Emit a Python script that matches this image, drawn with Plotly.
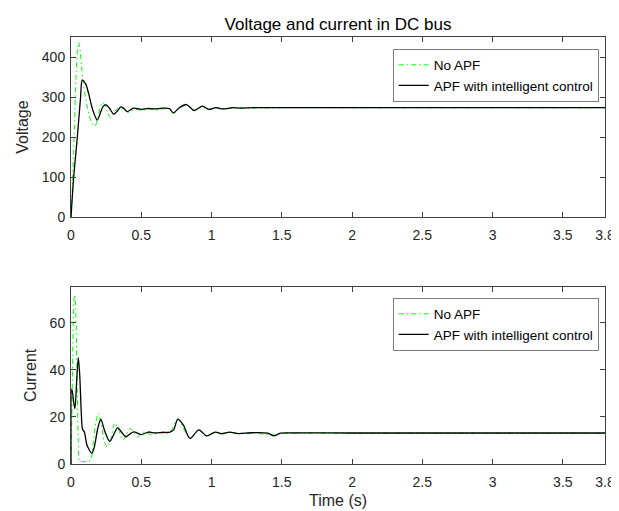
import plotly.graph_objects as go
from plotly.subplots import make_subplots

# ---- data ----
v_noapf_t = [0, 0.008, 0.018, 0.028, 0.038, 0.047, 0.054, 0.062, 0.075, 0.085, 0.108, 0.143, 0.171,
             0.19, 0.205, 0.222, 0.24, 0.26, 0.28, 0.30, 0.32, 0.35, 0.38, 0.41, 0.44, 0.47, 0.50,
             0.55, 0.60, 0.65, 0.70, 0.73, 0.78, 0.823, 0.876, 0.935, 0.98, 1.03, 1.10, 1.20, 1.30,
             1.50, 2.0, 2.5, 3.0, 3.5, 3.8]
v_noapf = [0, 60, 160, 270, 370, 425, 438, 425, 380, 340, 290, 240, 228,
           248, 272, 287, 282, 262, 249, 256, 268, 276, 270, 262, 268, 270, 267,
           271, 268, 271, 270, 260, 275, 281, 267, 277, 270, 274, 272, 274, 273,
           274, 274, 274, 274, 274, 274]

v_apf_t = [0, 0.019, 0.045, 0.068, 0.08, 0.105, 0.125, 0.155, 0.187, 0.21, 0.23, 0.25, 0.275,
           0.304, 0.33, 0.355, 0.38, 0.40, 0.445, 0.50, 0.55, 0.60, 0.65, 0.70, 0.729, 0.77,
           0.823, 0.876, 0.935, 0.98, 1.03, 1.08, 1.15, 1.20, 1.30, 1.50, 2.0, 2.5, 3.0, 3.5, 3.8]
v_apf = [0, 100, 200, 300, 343, 333, 310, 268, 243, 262, 278, 281, 272,
         258, 266, 276, 271, 264, 273, 270, 272, 271, 273, 272, 261, 274,
         282, 267, 278, 270, 274, 271, 274, 273, 274, 274, 274, 274, 274, 274, 274]

i_noapf_t = [0, 0.006, 0.012, 0.018, 0.024, 0.032, 0.042, 0.052, 0.06, 0.08, 0.10, 0.12, 0.14,
             0.16, 0.178, 0.194, 0.215, 0.235, 0.257, 0.285, 0.311, 0.34, 0.369, 0.395, 0.42,
             0.445, 0.469, 0.52, 0.57, 0.62, 0.70, 0.76, 0.846, 0.91, 0.965, 1.02, 1.08, 1.13,
             1.20, 1.30, 1.44, 1.50, 2.0, 2.5, 3.0, 3.5, 3.8]
i_noapf = [0, 20, 45, 65, 72, 68, 40, 10, 1.2, 1.0, 1.0, 1.0, 1.5,
           10, 18, 21.6, 17, 10, 7.3, 11, 17.4, 14.5, 10.1, 12.5, 15.2,
           13.5, 11.4, 13.6, 12.5, 13.3, 13.2, 19, 10.9, 14.3, 11.9, 13.6, 12.7, 13.4,
           12.9, 13.2, 12.3, 13.0, 13.0, 13.0, 13.0, 13.0, 13.0]

i_apf_t = [0, 0.005, 0.012, 0.02, 0.028, 0.04, 0.052, 0.062, 0.073, 0.082, 0.095, 0.112, 0.13,
           0.148, 0.165, 0.19, 0.212, 0.24, 0.276, 0.30, 0.332, 0.36, 0.39, 0.42, 0.447, 0.50,
           0.55, 0.60, 0.65, 0.70, 0.73, 0.76, 0.80, 0.846, 0.91, 0.965, 1.028, 1.07, 1.13,
           1.19, 1.28, 1.40, 1.444, 1.49, 1.60, 2.0, 2.5, 3.0, 3.5, 3.8]
i_apf = [0, 31.8, 30, 26, 23.6, 35, 45.3, 38, 22, 14.8, 13.6, 8.4, 6,
         4.6, 7, 15, 19.1, 14, 9.6, 12, 15.5, 13.5, 11.6, 12.8, 13.7, 12.5,
         13.6, 13.2, 13.5, 13.5, 14.5, 19.1, 16.5, 10.9, 14.5, 12.0, 13.6, 12.9, 13.6,
         12.9, 13.3, 13.1, 12.0, 13.1, 13.2, 13.2, 13.2, 13.2, 13.2, 13.2]

x_ticks = [0, 0.5, 1, 1.5, 2, 2.5, 3, 3.5, 3.8]
x_tick_labels = ["0", "0.5", "1", "1.5", "2", "2.5", "3", "3.5", "3.8"]
v_ticks = [0, 100, 200, 300, 400]
i_ticks = [0, 20, 40, 60]

series_names = ["No APF", "APF with intelligent control"]
title_text = "Voltage and current in DC bus"

# ---- figure ----
FONT = "Liberation Sans, Arial, Helvetica, sans-serif"
AX = "#404040"
TXT = "#262626"
GREEN = "#00ff00"
DASHDOT = "5px,3px,1.5px,3px"
W, H = 619, 511

fig = make_subplots(rows=2, cols=1)

fig.add_trace(go.Scatter(x=v_noapf_t, y=v_noapf, mode="lines", name=series_names[0],
                         line=dict(color=GREEN, width=1, dash=DASHDOT, shape="spline", smoothing=0.8),
                         legend="legend"), row=1, col=1)
fig.add_trace(go.Scatter(x=v_apf_t, y=v_apf, mode="lines", name=series_names[1],
                         line=dict(color="black", width=1.3, shape="spline", smoothing=0.8),
                         legend="legend"), row=1, col=1)
fig.add_trace(go.Scatter(x=i_noapf_t, y=i_noapf, mode="lines", name=series_names[0],
                         line=dict(color=GREEN, width=1, dash=DASHDOT, shape="spline", smoothing=0.8),
                         legend="legend2"), row=2, col=1)
fig.add_trace(go.Scatter(x=i_apf_t, y=i_apf, mode="lines", name=series_names[1],
                         line=dict(color="black", width=1.3, shape="spline", smoothing=0.8),
                         legend="legend2"), row=2, col=1)

axis_common = dict(showline=True, linecolor=AX, linewidth=1, mirror="ticks",
                   ticks="inside", ticklen=5, tickcolor=AX, tickwidth=1,
                   showgrid=False, zeroline=False,
                   tickfont=dict(family=FONT, size=14, color=TXT))

fig.update_xaxes(range=[0, 3.8], tickvals=x_ticks, ticktext=x_tick_labels,
                 ticklabelstandoff=5, **axis_common)
fig.update_yaxes(ticklabelstandoff=2, **axis_common)

lbl_font = dict(family=FONT, size=16, color=TXT)
fig.update_layout(
    yaxis=dict(domain=[0.578, 1.0], range=[0, 451], tickvals=v_ticks,
               title=dict(text="Voltage", standoff=9, font=lbl_font)),
    xaxis2=dict(title=dict(text="Time (s)", standoff=6, font=lbl_font)),
    yaxis2=dict(domain=[0.0, 0.415], range=[0, 75.4], tickvals=i_ticks,
                title=dict(text="Current", standoff=9, font=lbl_font)),
    width=W, height=H,
    margin=dict(l=63, r=13, t=29, b=54),
    paper_bgcolor="white", plot_bgcolor="white",
    title=dict(text=title_text, x=0.5, xref="paper", xanchor="center",
               y=1 - 16 / H, yref="container", yanchor="middle",
               font=dict(family=FONT, size=17, color="#000000")),
    legend=dict(x=0.989, xanchor="right", y=0.972, yanchor="top",
                bgcolor="white", bordercolor=TXT, borderwidth=0.6,
                font=dict(family=FONT, size=13.5, color="#000000"), tracegroupgap=0),
    legend2=dict(x=0.989, xanchor="right", y=0.389, yanchor="top",
                 bgcolor="white", bordercolor=TXT, borderwidth=0.6,
                 font=dict(family=FONT, size=13.5, color="#000000"), tracegroupgap=0),
    showlegend=True,
)

fig.write_html("out.html")
